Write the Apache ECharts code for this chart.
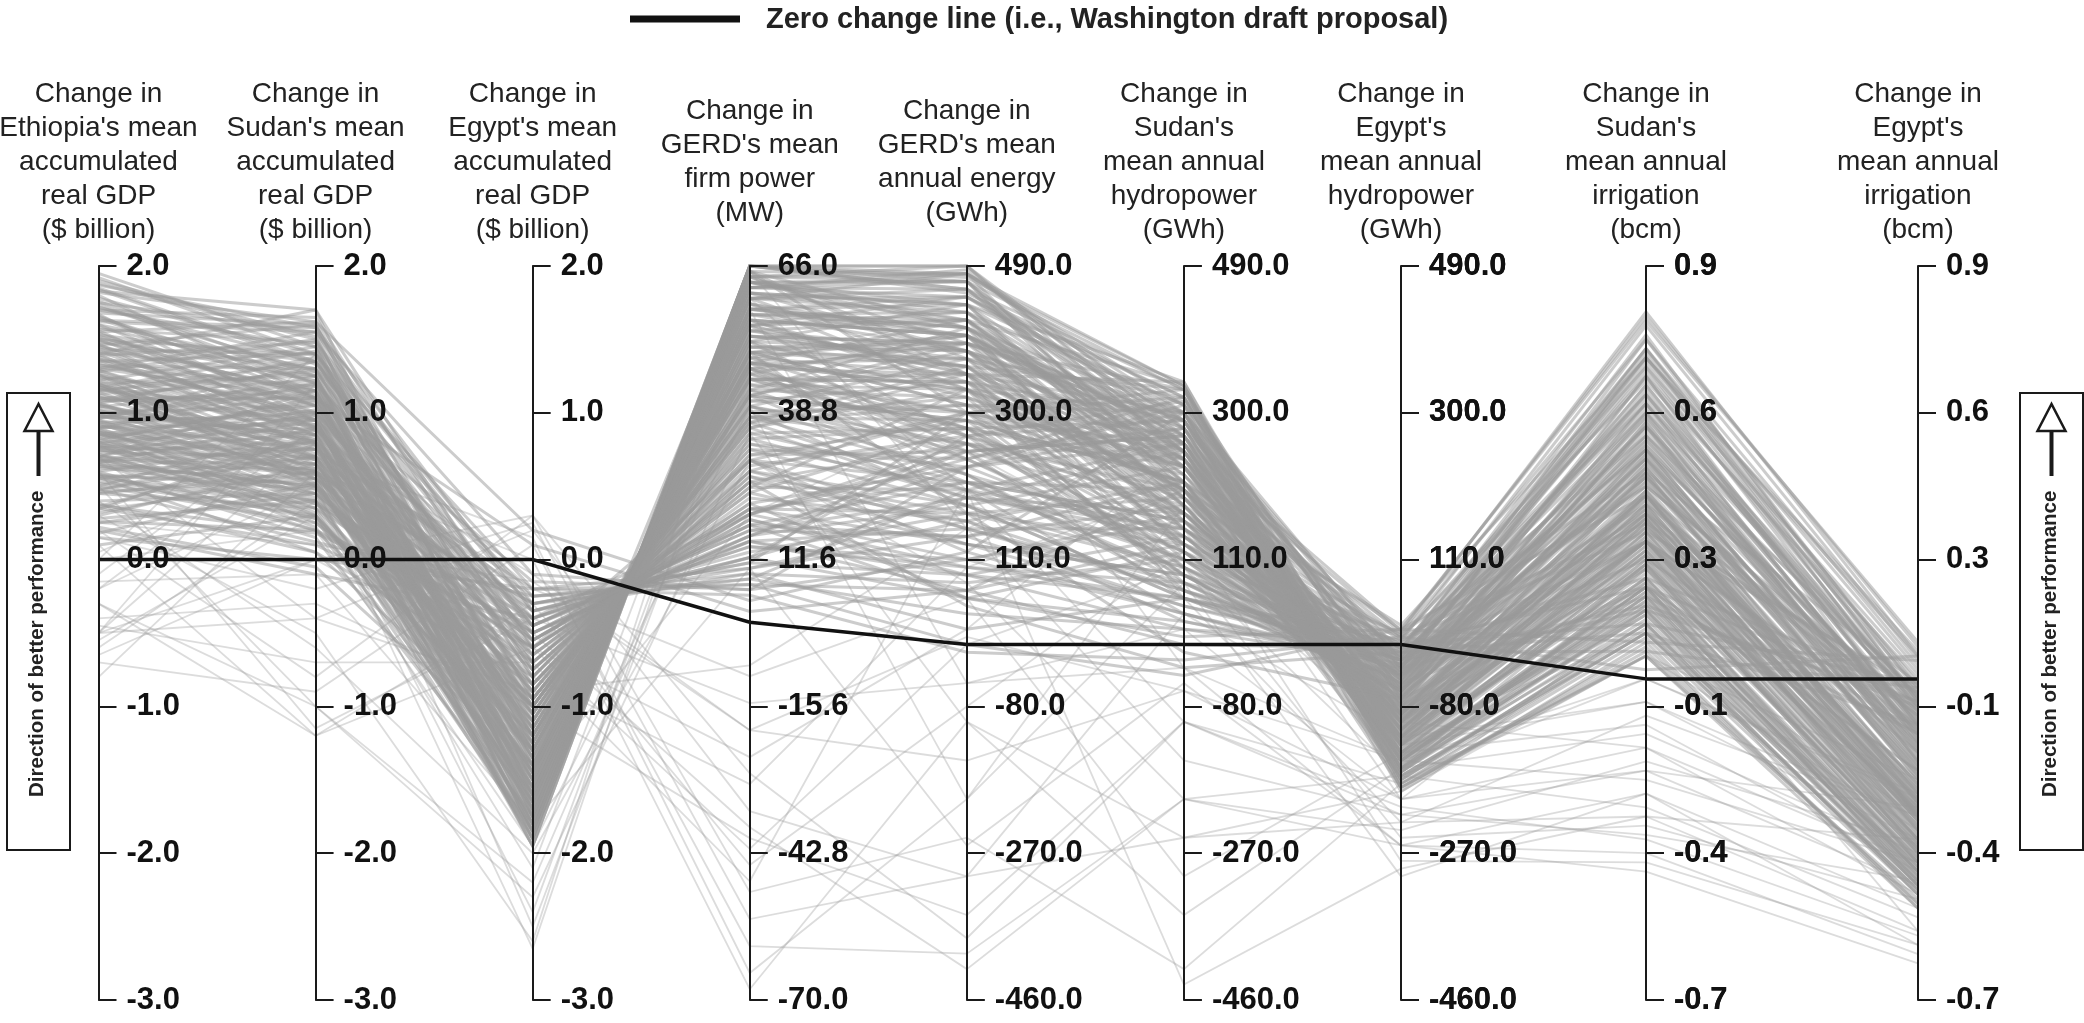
<!DOCTYPE html>
<html>
<head>
<meta charset="utf-8">
<script src="https://cdn.jsdelivr.net/npm/echarts@6/dist/echarts.min.js"></script>
<style>
  html, body { margin: 0; padding: 0; background: #ffffff; }
  #chart { width: 2084px; height: 1023px; }
</style>
</head>
<body>
<div id="chart"></div>
<script>
// Axis titles (one per performance metric)
const axisNames = [
  "Change in\nEthiopia's mean\naccumulated\nreal GDP\n($ billion)",
  "Change in\nSudan's mean\naccumulated\nreal GDP\n($ billion)",
  "Change in\nEgypt's mean\naccumulated\nreal GDP\n($ billion)",
  "Change in\nGERD's mean\nfirm power\n(MW)",
  "Change in\nGERD's mean\nannual energy\n(GWh)",
  "Change in\nSudan's\nmean annual\nhydropower\n(GWh)",
  "Change in\nEgypt's\nmean annual\nhydropower\n(GWh)",
  "Change in\nSudan's\nmean annual\nirrigation\n(bcm)",
  "Change in\nEgypt's\nmean annual\nirrigation\n(bcm)"
];
// Axis ranges and tick steps
const axisMin  = [-3, -3, -3, -70, -460, -460, -460, -0.7, -0.7];
const axisMax  = [2, 2, 2, 66, 490, 490, 490, 0.9, 0.9];
const axisStep = [1, 1, 1, 27.2, 190, 190, 190, 0.32, 0.32];

// Reference policy: the Washington draft proposal (zero change everywhere)
const zeroChange = [0, 0, 0, 0, 0, 0, 0, 0, 0];

// Alternative policies, columns follow axisNames order
const policiesUpper = [
  [1.85, 1.35, -0.45, 18, 210, 160, -40, 0.45, -0.20],
  [1.70, 1.45, -1.20, 42, 380, 290, -120, 0.30, -0.35],
  [1.55, 1.62, 0.20, 4, 120, 300, -20, 0.62, -0.10],
  [1.40, 1.70, -0.60, 30, 300, 330, -90, 0.40, -0.28],
  [1.30, 1.10, -1.80, 62, 470, 250, -150, 0.20, -0.45],
  [1.20, 1.25, -1.50, 55, 430, 310, -60, 0.55, -0.15],
  [1.10, 0.95, -1.65, 64, 480, 200, -170, 0.10, -0.40],
  [1.00, 1.05, -0.90, 36, 330, 240, -30, 0.70, 0.05],
  [0.95, 0.70, -1.30, 50, 400, 150, -100, 0.25, -0.30],
  [0.90, 1.20, -0.40, 20, 250, 280, -10, 0.75, -0.05],
  [0.85, 0.60, -1.70, 60, 350, 110, -80, 0.35, -0.38],
  [0.80, 0.90, -1.10, 45, 270, 190, -50, 0.50, -0.20],
  [0.75, 0.45, -1.85, 66, 460, 330, -180, 0.05, -0.48],
  [0.70, 1.00, -0.70, 28, 180, 230, 10, 0.65, 0.00],
  [0.65, 0.50, -1.40, 52, 320, 80, -60, 0.40, -0.25],
  [1.60, 1.30, -1.00, 38, 290, 260, -110, 0.30, -0.33],
  [1.45, 1.15, -1.60, 58, 440, 180, -140, 0.15, -0.42],
  [1.35, 1.40, -0.20, 10, 160, 210, 20, 0.78, 0.08],
  [1.25, 0.80, -1.75, 63, 410, 120, -90, 0.45, -0.30],
  [1.15, 1.35, -0.80, 32, 240, 320, -70, 0.58, -0.18],
  [1.05, 0.75, -1.45, 54, 360, 170, -130, 0.22, -0.36],
  [0.98, 0.85, -0.50, 15, 90, 60, -20, 0.30, -0.10],
  [0.88, 0.40, -1.90, 65, 300, 90, -60, 0.48, -0.22],
  [0.78, 0.65, -1.00, 40, 220, 140, -40, 0.55, -0.12],
  [0.72, 0.30, -1.60, 57, 410, 250, -160, 0.12, -0.44],
  [0.62, 0.55, -0.30, 8, 40, 20, 0, 0.20, -0.05],
  [0.58, 0.20, -1.20, 48, 330, 200, -110, 0.35, -0.30],
  [1.75, 1.55, -0.10, 6, 230, 280, -30, 0.68, -0.08],
  [1.65, 1.20, -1.35, 47, 390, 220, -80, 0.42, -0.26],
  [1.50, 0.95, -1.85, 66, 480, 300, -190, 0.08, -0.50],
  [1.38, 1.05, -0.70, 25, 200, 150, -20, 0.60, -0.06],
  [1.28, 1.50, -0.95, 36, 350, 340, -140, 0.25, -0.40],
  [1.18, 0.70, -1.25, 49, 280, 90, -50, 0.52, -0.16],
  [1.08, 1.15, -1.75, 62, 450, 270, -120, 0.30, -0.34],
  [1.02, 0.55, -0.85, 30, 150, 70, -10, 0.66, -0.02],
  [0.93, 1.00, -1.55, 57, 420, 230, -100, 0.38, -0.28],
  [0.83, 0.35, -0.60, 22, 60, 10, 20, 0.40, -0.08],
  [0.76, 0.85, -1.35, 50, 310, 270, -150, 0.18, -0.39],
  [0.68, 0.45, -1.05, 40, 260, 120, -70, 0.46, -0.21],
  [0.60, 0.80, -0.45, 17, 140, 180, -5, 0.72, 0.02]
];

const policiesMiddle = [
  [1.88, 1.50, -1.45, 53, 360, 200, -60, 0.55, -0.18],
  [1.58, 1.25, -1.70, 61, 440, 310, -170, 0.10, -0.46],
  [1.42, 0.90, -1.15, 44, 280, 130, -40, 0.62, -0.10],
  [1.22, 1.45, -0.35, 12, 190, 250, 15, 0.80, 0.05],
  [1.12, 0.80, -1.90, 66, 490, 280, -130, 0.28, -0.35],
  [0.97, 0.95, -1.25, 46, 300, 160, -90, 0.36, -0.27],
  [0.87, 0.65, -1.65, 59, 380, 240, -110, 0.33, -0.31],
  [0.73, 0.70, -0.75, 27, 170, 100, -15, 0.58, -0.04],
  [0.55, 0.40, -1.45, 52, 250, 60, -40, 0.44, -0.14],
  [0.50, 0.25, -0.80, 30, 120, 40, -25, 0.26, -0.12],
  [1.68, 1.60, -1.10, 41, 340, 290, -100, 0.47, -0.24],
  [1.48, 1.30, -1.55, 56, 400, 260, -150, 0.20, -0.41],
  [1.33, 1.00, -0.55, 21, 210, 200, -35, 0.64, -0.07],
  [1.21, 0.60, -1.80, 63, 470, 190, -90, 0.40, -0.29],
  [1.09, 1.30, -1.05, 39, 310, 300, -160, 0.15, -0.43],
  [0.99, 0.50, -1.50, 55, 350, 130, -70, 0.50, -0.19],
  [0.91, 0.75, -0.25, 9, 80, 110, 10, 0.34, -0.03],
  [0.81, 1.10, -1.20, 44, 330, 230, -120, 0.28, -0.32],
  [0.71, 0.35, -1.75, 61, 420, 210, -130, 0.22, -0.37],
  [0.45, 0.60, -0.95, 34, 190, 150, -45, 0.54, -0.15],
  [1.78, 1.40, -0.75, 26, 260, 240, -55, 0.60, -0.13],
  [1.52, 1.10, -1.30, 48, 370, 180, -100, 0.32, -0.30],
  [1.36, 0.85, -1.95, 66, 455, 320, -185, 0.06, -0.49],
  [1.16, 0.90, -0.65, 24, 130, 90, -5, 0.70, -0.01],
  [1.04, 1.20, -1.40, 51, 390, 280, -140, 0.24, -0.38],
  [0.94, 0.60, -1.15, 43, 240, 120, -60, 0.49, -0.17],
  [0.84, 0.95, -1.80, 63, 430, 260, -110, 0.37, -0.33],
  [0.66, 0.50, -0.55, 19, 100, 80, 5, 0.42, -0.06],
  [0.52, 0.30, -1.30, 47, 280, 140, -80, 0.30, -0.26],
  [0.40, 0.45, -0.70, 26, 160, 30, -30, 0.52, -0.09],
  [1.95, 1.45, -1.60, 58, 410, 240, -120, 0.45, -0.27],
  [1.62, 1.55, -0.50, 16, 230, 310, -25, 0.74, -0.03],
  [1.46, 1.05, -1.20, 45, 340, 170, -85, 0.38, -0.29],
  [1.26, 0.95, -1.65, 60, 460, 230, -155, 0.14, -0.44],
  [1.14, 0.65, -0.90, 33, 200, 110, -30, 0.57, -0.11],
  [0.96, 1.25, -1.35, 50, 370, 320, -175, 0.12, -0.47],
  [0.86, 0.55, -1.85, 64, 390, 170, -75, 0.41, -0.23],
  [0.74, 0.80, -1.10, 42, 290, 210, -95, 0.33, -0.28],
  [0.64, 0.40, -1.60, 56, 340, 100, -50, 0.46, -0.20],
  [0.48, 0.70, -0.40, 14, 110, 160, 0, 0.60, -0.04]
];

const policiesBroad = [
  [1.82, 1.62, -0.95, 37, 360, 330, -130, 0.36, -0.31],
  [1.72, 1.28, -1.75, 62, 485, 270, -165, 0.16, -0.43],
  [1.57, 1.48, -0.30, 11, 300, 250, -15, 0.72, -0.02],
  [1.44, 0.88, -1.55, 56, 330, 140, -75, 0.48, -0.21],
  [1.31, 1.18, -1.15, 43, 410, 300, -105, 0.41, -0.27],
  [1.19, 0.72, -0.50, 18, 140, 50, -10, 0.50, -0.08],
  [1.06, 1.38, -1.60, 58, 450, 320, -150, 0.21, -0.40],
  [0.92, 0.58, -1.90, 65, 350, 200, -95, 0.39, -0.26],
  [0.79, 1.02, -0.85, 31, 250, 270, -45, 0.63, -0.09],
  [0.69, 0.28, -1.25, 47, 220, 70, -35, 0.44, -0.15],
  [1.66, 1.10, -1.40, 51, 380, 230, -115, 0.34, -0.32],
  [1.53, 1.35, -0.65, 24, 280, 290, -50, 0.66, -0.11],
  [1.37, 0.95, -1.85, 64, 470, 260, -140, 0.27, -0.37],
  [1.24, 1.08, -1.00, 38, 320, 210, -65, 0.53, -0.18],
  [1.11, 0.62, -1.65, 59, 400, 160, -120, 0.31, -0.34],
  [1.01, 0.88, -0.35, 13, 170, 190, 5, 0.77, 0.04],
  [0.89, 1.15, -1.45, 53, 390, 300, -160, 0.17, -0.42],
  [0.77, 0.48, -0.95, 35, 210, 110, -40, 0.51, -0.13],
  [0.63, 0.62, -1.70, 61, 440, 250, -135, 0.26, -0.39],
  [0.53, 0.38, -0.60, 21, 130, 90, -20, 0.38, -0.07],
  [1.90, 1.52, -1.25, 46, 400, 270, -90, 0.49, -0.22],
  [1.74, 1.20, -0.55, 20, 260, 200, -30, 0.69, -0.06],
  [1.41, 1.25, -1.90, 66, 475, 335, -180, 0.09, -0.47],
  [1.29, 0.78, -1.35, 50, 310, 150, -70, 0.43, -0.23],
  [1.17, 1.42, -0.80, 29, 270, 315, -80, 0.56, -0.16],
  [0.99, 0.68, -1.80, 63, 420, 180, -115, 0.32, -0.33],
  [0.90, 0.92, -1.05, 41, 300, 240, -55, 0.59, -0.12],
  [0.80, 0.32, -1.55, 55, 270, 90, -65, 0.37, -0.24],
  [0.67, 0.75, -0.20, 7, 70, 130, 15, 0.45, -0.01],
  [0.57, 0.52, -1.40, 49, 350, 190, -125, 0.23, -0.35],
  [1.84, 1.33, -1.70, 60, 430, 210, -145, 0.19, -0.41],
  [1.63, 1.58, -1.30, 48, 420, 335, -165, 0.13, -0.45],
  [1.49, 1.12, -0.45, 17, 190, 170, -25, 0.67, -0.05],
  [1.34, 0.98, -1.50, 54, 380, 280, -125, 0.29, -0.36],
  [1.23, 0.68, -1.95, 66, 490, 240, -185, 0.07, -0.49],
  [1.13, 1.22, -0.60, 22, 230, 260, -35, 0.71, -0.07],
  [1.03, 0.82, -1.30, 48, 340, 200, -85, 0.40, -0.25],
  [0.93, 0.42, -1.00, 39, 180, 60, -45, 0.47, -0.14],
  [0.82, 1.08, -1.65, 58, 400, 290, -145, 0.20, -0.40],
  [0.70, 0.58, -0.30, 11, 90, 140, 0, 0.53, -0.03]
];

const policiesDense = [
  [0.35, 0.10, -0.60, 20, 110, 40, -30, 0.15, -0.05],
  [0.25, 0.45, -1.00, 38, 260, 180, -90, 0.30, -0.22],
  [0.15, 0.00, -0.20, 5, -10, -20, 10, 0.02, 0.05],
  [0.30, 0.65, -1.50, 55, 420, 260, -140, 0.25, -0.38],
  [0.20, -0.10, -0.40, 12, 60, 120, -10, 0.10, -0.10],
  [0.10, 0.30, -1.20, 45, 300, 210, -120, 0.40, -0.30],
  [0.38, 0.05, -0.85, 28, 150, 80, -50, 0.18, -0.12],
  [1.80, 1.10, 0.10, 2, 70, 200, 25, 0.70, 0.06],
  [1.70, 1.65, -0.70, 25, 330, 300, -70, 0.56, -0.17],
  [1.60, 1.00, -1.85, 66, 470, 210, -165, 0.22, -0.42],
  [1.50, 1.40, -1.30, 49, 400, 250, -110, 0.35, -0.30],
  [1.40, 0.75, -0.90, 33, 230, 120, -55, 0.48, -0.16],
  [1.30, 1.55, -1.65, 60, 480, 335, -175, 0.10, -0.46],
  [1.20, 0.50, -1.10, 42, 290, 100, -75, 0.36, -0.24],
  [1.10, 1.10, -0.15, 6, 110, 170, 12, 0.74, 0.03],
  [1.00, 0.85, -1.70, 62, 460, 280, -150, 0.18, -0.44],
  [0.90, 0.30, -1.40, 51, 360, 160, -95, 0.30, -0.29],
  [0.80, 0.60, -0.50, 16, 180, 60, -15, 0.55, -0.05],
  [0.70, 1.15, -1.25, 47, 350, 300, -135, 0.26, -0.37],
  [0.60, 0.15, -1.75, 61, 380, 150, -70, 0.44, -0.21],
  [0.50, 0.90, -0.95, 35, 280, 220, -60, 0.60, -0.13],
  [1.92, 1.40, -1.05, 40, 370, 250, -100, 0.40, -0.27],
  [1.76, 1.25, -1.50, 55, 450, 290, -130, 0.32, -0.35],
  [1.56, 0.90, -0.40, 15, 150, 150, -5, 0.62, -0.04],
  [1.46, 1.60, -1.15, 42, 390, 330, -155, 0.20, -0.43],
  [1.36, 1.15, -1.80, 64, 490, 260, -175, 0.12, -0.47],
  [1.26, 0.55, -0.65, 23, 160, 70, -20, 0.50, -0.09],
  [1.16, 1.00, -1.35, 50, 360, 240, -105, 0.34, -0.31],
  [1.06, 0.70, -1.90, 65, 410, 190, -120, 0.28, -0.36],
  [0.96, 1.35, -0.75, 28, 300, 320, -65, 0.66, -0.14],
  [0.86, 0.25, -1.00, 37, 200, 40, -40, 0.30, -0.11],
  [0.76, 0.75, -1.60, 57, 430, 230, -140, 0.16, -0.41],
  [0.66, 0.95, -0.30, 10, 140, 210, 8, 0.68, 0.01],
  [0.56, 0.05, -1.30, 48, 240, 110, -85, 0.24, -0.28],
  [0.46, 0.55, -0.55, 19, 90, 20, -25, 0.36, -0.08],
  [0.34, 0.85, -1.45, 53, 370, 260, -150, 0.14, -0.45],
  [0.26, 0.20, -0.70, 26, 50, -30, -10, 0.06, -0.02],
  [1.87, 1.58, -0.35, 12, 270, 290, -40, 0.64, -0.10],
  [1.67, 0.95, -1.60, 57, 380, 180, -110, 0.38, -0.30],
  [1.51, 1.22, -1.00, 37, 310, 230, -75, 0.50, -0.19],
  [1.39, 1.48, -1.75, 63, 470, 330, -185, 0.05, -0.50],
  [1.27, 0.70, -1.20, 46, 260, 130, -60, 0.46, -0.18],
  [1.15, 1.28, -0.55, 20, 240, 300, -30, 0.72, -0.05],
  [1.05, 0.80, -1.50, 54, 420, 220, -125, 0.27, -0.37],
  [0.95, 0.45, -0.75, 27, 130, 50, -20, 0.42, -0.07],
  [0.85, 1.05, -1.85, 65, 480, 310, -165, 0.15, -0.45],
  [0.75, 0.58, -1.05, 40, 250, 170, -80, 0.39, -0.25],
  [0.65, 0.20, -0.45, 15, 70, 0, -5, 0.22, -0.03],
  [0.55, 0.70, -1.55, 56, 400, 240, -130, 0.21, -0.39],
  [0.45, 0.35, -1.10, 42, 210, 90, -55, 0.33, -0.16],
  [0.32, 0.60, -0.35, 9, 20, 60, 0, 0.12, -0.01],
  [0.22, -0.05, -1.40, 50, 170, -10, -70, 0.20, -0.20],
  [1.83, 1.70, -1.40, 52, 440, 340, -160, 0.25, -0.40],
  [1.64, 1.15, -0.85, 31, 290, 210, -45, 0.58, -0.12],
  [1.47, 0.80, -1.95, 66, 460, 250, -145, 0.24, -0.38],
  [1.32, 1.30, -0.25, 8, 200, 260, 18, 0.79, 0.07],
  [1.19, 0.92, -1.45, 52, 380, 200, -100, 0.35, -0.29],
  [1.07, 0.52, -1.00, 38, 220, 80, -35, 0.53, -0.10],
  [0.97, 1.18, -1.70, 60, 450, 300, -170, 0.11, -0.46],
  [0.88, 0.68, -0.60, 21, 170, 130, -15, 0.61, -0.06],
  [0.78, 0.22, -1.65, 59, 330, 70, -60, 0.43, -0.19],
  [0.68, 0.88, -1.20, 45, 340, 250, -115, 0.29, -0.33],
  [0.58, 0.48, -0.85, 32, 180, 100, -35, 0.48, -0.11],
  [0.48, 0.12, -0.25, 7, 0, -40, 20, 0.08, 0.04],
  [0.36, 0.78, -1.60, 58, 410, 270, -145, 0.17, -0.42],
  [0.28, 0.40, -0.95, 36, 190, 140, -65, 0.37, -0.23],
  [1.72, 1.35, -1.20, 45, 350, 260, -90, 0.44, -0.25],
  [1.54, 1.05, -1.75, 62, 480, 290, -160, 0.18, -0.44],
  [1.43, 1.40, -0.45, 16, 250, 270, -20, 0.70, -0.04],
  [1.29, 0.85, -1.30, 48, 330, 170, -85, 0.41, -0.26],
  [1.18, 0.55, -1.80, 63, 440, 200, -125, 0.30, -0.35],
  [1.08, 1.10, -0.90, 34, 280, 230, -55, 0.57, -0.14],
  [0.98, 0.78, -1.55, 56, 400, 190, -105, 0.34, -0.31],
  [0.87, 0.38, -0.40, 14, 100, 60, 5, 0.32, -0.02],
  [0.77, 0.98, -1.45, 53, 390, 290, -150, 0.19, -0.42],
  [0.67, 0.65, -0.80, 30, 210, 160, -45, 0.51, -0.12],
  [0.57, 0.28, -1.85, 64, 370, 130, -90, 0.36, -0.27],
  [0.47, 0.82, -1.15, 43, 320, 230, -110, 0.31, -0.32],
  [0.37, 0.18, -0.50, 18, 60, 30, -20, 0.16, -0.06],
  [0.18, 0.52, -1.30, 47, 270, 170, -95, 0.27, -0.29]
];

// Scattered policies that lose on several metrics
const policiesScattered = [
  [-0.50, 0.80, -0.10, -20, -150, -60, -200, -0.15, -0.40],
  [-0.50, -0.40, 0.20, -35, -300, -250, -230, -0.30, -0.55],
  [-0.55, 0.30, -2.10, 60, 200, -100, -180, 0.10, -0.30],
  [-0.30, -1.20, -0.30, -45, -80, 120, -120, -0.05, -0.35],
  [-0.20, 0.50, -2.40, 55, 350, -30, -150, 0.00, -0.25],
  [-0.70, -0.90, 0.10, -60, -400, -200, -260, -0.38, -0.60],
  [0.10, -1.20, -0.60, -25, 20, 250, -90, 0.20, -0.20],
  [0.30, -0.50, -2.60, 65, 150, -150, -220, -0.20, -0.45],
  [-0.10, 1.00, -0.20, -10, 60, -300, -140, -0.10, -0.42],
  [0.00, 0.20, -1.95, 40, -200, 80, -300, -0.25, -0.50],
  [0.20, -0.80, 0.30, -50, -250, -420, -180, 0.05, -0.33],
  [-0.50, 0.00, -0.80, -30, 100, 200, -200, -0.20, -0.28],
  [0.50, -1.00, -2.20, 45, 250, 100, -250, -0.32, -0.48],
  [-0.80, 0.60, 0.00, -68, -100, -350, -160, -0.12, -0.38],
  [-0.40, -0.30, -1.00, -40, -350, -100, -210, -0.35, -0.56],
  [0.60, -1.15, -0.40, -15, -50, -30, -260, -0.42, -0.62],
  [-0.20, 0.90, -2.50, 50, 420, 60, -230, -0.08, -0.30],
  [0.15, -0.20, 0.25, -55, -300, 40, -120, 0.10, -0.45],
  [-0.60, 0.40, -0.50, -38, -420, -200, -170, -0.28, -0.52],
  [0.40, -0.60, -2.00, 30, 80, -200, -240, -0.18, -0.36],
  [-0.50, 1.20, -1.50, 20, 300, 150, -280, -0.40, -0.58],
  [0.25, 0.10, -0.15, -20, 10, -60, -150, -0.22, -0.40],
  [-0.30, -1.00, -2.30, 35, -100, -250, -190, 0.05, -0.22],
  [0.05, 0.70, 0.15, -65, -200, 180, -100, -0.15, -0.47],
  [-0.45, -0.70, -0.70, -48, 200, -440, -290, -0.30, -0.35],
  [0.35, 0.50, -2.65, 58, -50, 20, -200, 0.15, -0.55],
  [-0.65, 0.00, 0.30, -28, -380, -100, -220, -0.34, -0.44],
  [0.70, -0.40, -0.90, -8, 150, 280, -130, -0.05, -0.30],
  [-0.15, -0.10, -1.80, 10, -260, -50, -260, -0.25, -0.58],
  [0.00, 1.40, -0.60, -42, 0, 100, -170, 0.00, -0.26]
];

const FONT = '"Liberation Sans", Arial, Helvetica, sans-serif';
const INK = '#1a1a1a';

// Axis groups: the last axis of each group is shared with the next one,
// so consecutive groups join seamlessly while keeping their own spacing.
const axisGroups = [[0, 1, 2, 3, 4, 5, 6], [6, 7], [7, 8]];
const parallels = [
  { left: 98.5, top: 266, width: 1302.5, height: 734 },
  { left: 1401, top: 266, width: 245, height: 734 },
  { left: 1646, top: 266, width: 272, height: 734 }
];

const parallelAxis = [];
axisGroups.forEach(function (dims, p) {
  dims.forEach(function (d, k) {
    const shared = p > 0 && k === 0;
    parallelAxis.push({
      dim: d,
      parallelIndex: p,
      type: 'value',
      min: axisMin[d],
      max: axisMax[d],
      interval: axisStep[d],
      name: shared ? '' : axisNames[d],
      nameLocation: 'end',
      nameGap: 104,
      nameTruncate: { maxWidth: 400 },
      nameTextStyle: {
        fontFamily: FONT, fontSize: 28, lineHeight: 34, color: '#222',
        align: 'center', verticalAlign: 'middle'
      },
      axisLine: { show: !shared, lineStyle: { color: INK, width: 2 } },
      axisTick: { show: !shared, length: 18, lineStyle: { color: INK, width: 2 } },
      splitLine: { show: false },
      axisLabel: {
        show: !shared,
        margin: 28,
        padding: [8, 0, 0, 0],
        fontFamily: FONT, fontSize: 31, fontWeight: 'bold', color: '#111',
        formatter: function (v) { return Number(v).toFixed(1); }
      }
    });
  });
});

const series = [];
parallels.forEach(function (_, p) {
  const common = { type: 'parallel', parallelIndex: p, silent: true, animation: false, smooth: false };
  series.push(Object.assign({}, common, {
    name: 'scattered', z: 1, data: policiesScattered,
    lineStyle: { color: '#9c9c9c', width: 1.8, opacity: 0.35 }
  }));
  [policiesUpper, policiesMiddle, policiesBroad, policiesDense].forEach(function (rows) {
    series.push(Object.assign({}, common, {
      name: 'policies', z: 2, data: rows,
      lineStyle: { color: '#999999', width: 3.0, opacity: 0.5 }
    }));
  });
  series.push(Object.assign({}, common, {
    name: 'Zero change line (i.e., Washington draft proposal)', z: 5, data: [zeroChange],
    lineStyle: { color: '#111111', width: 3.5, opacity: 1 }
  }));
});

// Side boxes: "Direction of better performance" with an upward arrow
function directionBox(x) {
  const cx = x + 31.5;
  return {
    type: 'group',
    children: [
      { type: 'rect', shape: { x: x, y: 393, width: 63, height: 457 },
        style: { fill: '#fff', stroke: INK, lineWidth: 2 } },
      { type: 'line', shape: { x1: cx, y1: 476, x2: cx, y2: 430 },
        style: { stroke: INK, lineWidth: 4 } },
      { type: 'polygon', shape: { points: [[cx, 404], [cx - 14, 431], [cx + 14, 431]] },
        style: { fill: '#fff', stroke: INK, lineWidth: 2.5 } },
      { type: 'text', x: cx - 1, y: 797, rotation: Math.PI / 2,
        style: { text: 'Direction of better performance', font: 'bold 20.5px ' + FONT,
          fill: '#222', align: 'left', verticalAlign: 'middle' } }
    ]
  };
}

const option = {
  backgroundColor: '#ffffff',
  animation: false,
  parallel: parallels.map(function (r) {
    return Object.assign({ layout: 'horizontal' }, r);
  }),
  parallelAxis: parallelAxis,
  series: series,
  graphic: [
    { type: 'line', shape: { x1: 630, y1: 19, x2: 740, y2: 19 },
      style: { stroke: '#111', lineWidth: 7 } },
    { type: 'text', x: 766, y: 20,
      style: { text: 'Zero change line (i.e., Washington draft proposal)',
        font: 'bold 29px ' + FONT, fill: '#222', align: 'left', verticalAlign: 'middle' } },
    directionBox(7),
    directionBox(2020)
  ]
};

const chart = echarts.init(document.getElementById('chart'), null, { renderer: 'canvas' });
chart.setOption(option);
</script>
</body>
</html>
